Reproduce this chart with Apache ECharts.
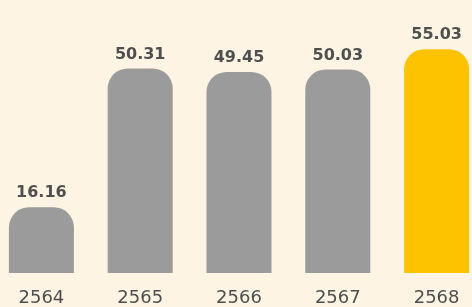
<!DOCTYPE html>
<html>
<head>
<meta charset="utf-8">
<script src="https://cdn.jsdelivr.net/npm/echarts@6/dist/echarts.min.js"></script>
<style>
  html, body { margin: 0; padding: 0; background: #fdf4e4; overflow: hidden; }
  body { width: 472px; height: 307px; position: relative; }
  /* the last bar is cut by the right edge, so the chart is a bit wider than the page */
  #chart { position: absolute; left: -8px; top: 0; width: 494px; height: 307px; }
</style>
</head>
<body>
<div id="chart"></div>
<script>
// years (Thai Buddhist era) and values
const years = ['2564', '2565', '2566', '2567', '2568'];
const values = [16.16, 50.31, 49.45, 50.03, 55.03];
const barColors = ['#9b9b9b', '#9b9b9b', '#9b9b9b', '#9b9b9b', '#fec300'];

const chart = echarts.init(document.getElementById('chart'));

const option = {
    backgroundColor: '#fdf4e4',
    animation: false,
    grid: {
        left: 0,
        right: 0,
        top: 29,
        bottom: 34,
    },
    xAxis: {
        type: 'category',
        data: years,
        axisLine: { show: false },
        axisTick: { show: false },
        axisLabel: {
            margin: 16,
            color: '#4f4f4f',
            fontFamily: 'DejaVu Sans',
            fontSize: 18,
        },
    },
    yAxis: {
        type: 'value',
        min: 0,
        max: 60,
        show: false,
        splitLine: { show: false },
    },
    series: [{
        type: 'bar',
        barWidth: 65,
        data: values.map((v, i) => ({
            value: v,
            itemStyle: { color: barColors[i] },
        })),
        itemStyle: {
            borderRadius: [20, 20, 0, 0],
        },
        label: {
            show: true,
            position: 'top',
            distance: 6,
            color: '#4f4f4f',
            fontFamily: 'DejaVu Sans',
            fontWeight: 'bold',
            fontSize: 16,
            formatter: p => p.value.toFixed(2),
        },
    }],
};

chart.setOption(option);
</script>
</body>
</html>
